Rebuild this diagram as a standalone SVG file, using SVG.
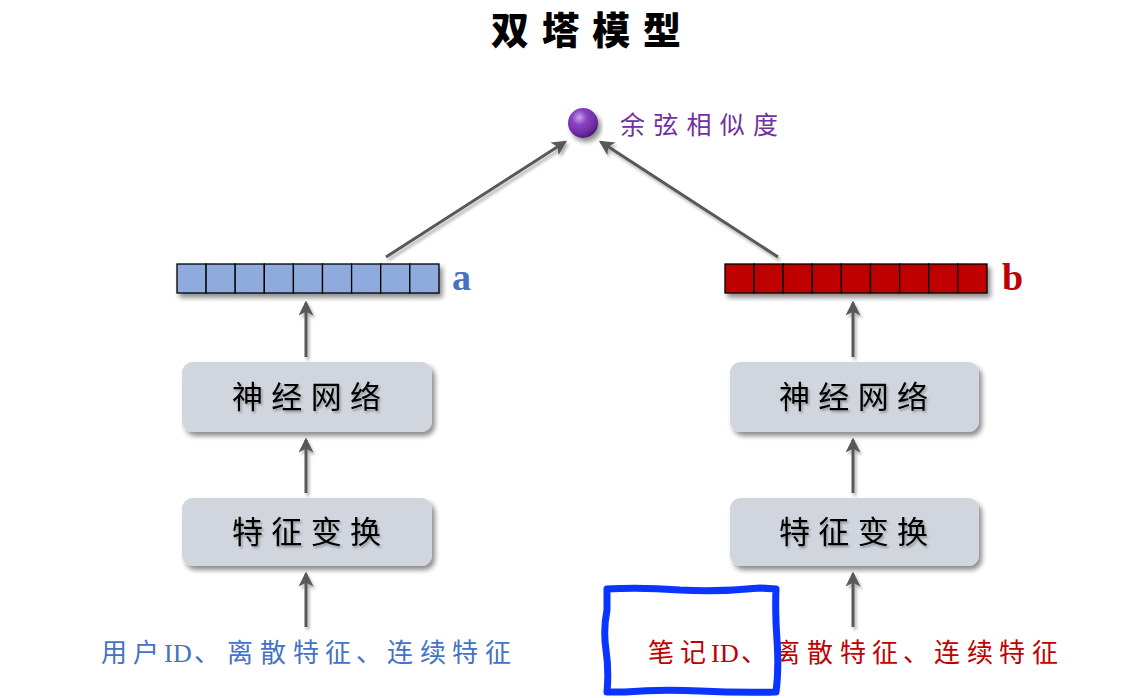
<svg xmlns="http://www.w3.org/2000/svg" width="1123" height="698" viewBox="0 0 1123 698">
  <style>
    .title { font-family: "Noto Sans CJK SC", sans-serif; font-weight: 900; font-size: 38px; fill: #000; }
    .node-box { fill: #D1D6DE; filter: url(#shadow); }
    .node-text { font-family: "Noto Sans CJK SC", sans-serif; font-size: 31px; fill: #000; filter: url(#txtshadow); }
    .cell-a { fill: #8FAADC; stroke: #000; stroke-width: 1.3; }
    .cell-b { fill: #C00000; stroke: #000; stroke-width: 1.3; }
    .vec-label { font-family: "Liberation Serif", serif; font-weight: bold; font-size: 38px; }
    .conn { stroke: #595959; stroke-width: 3; fill: none; marker-end: url(#arrow); }
    .feat { font-family: "Liberation Serif", "Noto Sans CJK SC", serif; font-size: 26px; }
  </style>
  <defs>
    <filter id="shadow" x="-10%" y="-20%" width="125%" height="150%">
      <feDropShadow dx="3" dy="4" stdDeviation="2.5" flood-color="#000" flood-opacity="0.45"/>
    </filter>
    <filter id="lineshadow" filterUnits="userSpaceOnUse" x="0" y="0" width="1123" height="698">
      <feDropShadow dx="2" dy="3" stdDeviation="1.5" flood-color="#000" flood-opacity="0.3"/>
    </filter>
    <filter id="txtshadow" x="-10%" y="-20%" width="120%" height="150%">
      <feDropShadow dx="1.5" dy="2" stdDeviation="1" flood-color="#000" flood-opacity="0.3"/>
    </filter>
    <radialGradient id="ball" cx="0.38" cy="0.32" r="0.7">
      <stop offset="0" stop-color="#C9A6EC"/>
      <stop offset="0.35" stop-color="#8A44C2"/>
      <stop offset="0.8" stop-color="#6B2A9E"/>
      <stop offset="1" stop-color="#4A1672"/>
    </radialGradient>
    <marker id="arrow" viewBox="0 0 12 12" refX="10" refY="6" markerWidth="5" markerHeight="5" orient="auto" markerUnits="strokeWidth">
      <path d="M0,0 L12,6 L0,12 L3,6 Z" fill="#595959"/>
    </marker>
  </defs>

  <!-- heading -->
  <text class="title" x="491" y="44" textLength="190" lengthAdjust="spacing">双塔模型</text>

  <!-- similarity output -->
  <g id="similarity">
    <circle cx="583" cy="123" r="15" fill="url(#ball)" filter="url(#shadow)"/>
    <text x="620" y="134" textLength="158" lengthAdjust="spacing" style="font-family:'Noto Sans CJK SC',sans-serif;font-size:25px;fill:#7030A0">余弦相似度</text>
  </g>

  <!-- connectors -->
  <g id="connectors" filter="url(#lineshadow)">
    <line class="conn" x1="386" y1="257" x2="565" y2="142"/>
    <line class="conn" x1="778" y1="257" x2="601" y2="142"/>
    <line class="conn" x1="306" y1="357" x2="306" y2="303"/>
    <line class="conn" x1="306" y1="493" x2="306" y2="440"/>
    <line class="conn" x1="306" y1="627" x2="306" y2="574"/>
    <line class="conn" x1="853" y1="357" x2="853" y2="303"/>
    <line class="conn" x1="853" y1="493" x2="853" y2="440"/>
    <line class="conn" x1="853" y1="627" x2="853" y2="574"/>
  </g>

  <!-- user tower -->
  <g id="vector-a">
    <g filter="url(#shadow)">
      <rect class="cell-a" x="177" y="264" width="29.1" height="29"/>
      <rect class="cell-a" x="206.1" y="264" width="29.1" height="29"/>
      <rect class="cell-a" x="235.2" y="264" width="29.1" height="29"/>
      <rect class="cell-a" x="264.3" y="264" width="29.1" height="29"/>
      <rect class="cell-a" x="293.4" y="264" width="29.1" height="29"/>
      <rect class="cell-a" x="322.5" y="264" width="29.1" height="29"/>
      <rect class="cell-a" x="351.6" y="264" width="29.1" height="29"/>
      <rect class="cell-a" x="380.7" y="264" width="29.1" height="29"/>
      <rect class="cell-a" x="409.8" y="264" width="29.2" height="29"/>
    </g>
    <text class="vec-label" x="452" y="290" fill="#4472C4">a</text>
  </g>
  <g id="nn-a">
    <rect class="node-box" x="182" y="362" width="250" height="70" rx="11"/>
    <text class="node-text" x="232" y="408" textLength="149" lengthAdjust="spacing">神经网络</text>
  </g>
  <g id="ft-a">
    <rect class="node-box" x="182" y="498" width="250" height="68" rx="11"/>
    <text class="node-text" x="232" y="543" textLength="149" lengthAdjust="spacing">特征变换</text>
  </g>
  <g id="input-a">
    <text class="feat" fill="#4472C4" y="662" x="101 133 164 173 194 227 260 293 325 356 387 420 452 485">用户ID、离散特征、连续特征</text>
  </g>

  <!-- item tower -->
  <g id="vector-b">
    <g filter="url(#shadow)">
      <rect class="cell-b" x="725" y="264" width="29.1" height="29"/>
      <rect class="cell-b" x="754.1" y="264" width="29.1" height="29"/>
      <rect class="cell-b" x="783.2" y="264" width="29.1" height="29"/>
      <rect class="cell-b" x="812.3" y="264" width="29.1" height="29"/>
      <rect class="cell-b" x="841.4" y="264" width="29.1" height="29"/>
      <rect class="cell-b" x="870.5" y="264" width="29.1" height="29"/>
      <rect class="cell-b" x="899.6" y="264" width="29.1" height="29"/>
      <rect class="cell-b" x="928.7" y="264" width="29.1" height="29"/>
      <rect class="cell-b" x="957.8" y="264" width="29.2" height="29"/>
    </g>
    <text class="vec-label" x="1002" y="290" fill="#C00000">b</text>
  </g>
  <g id="nn-b">
    <rect class="node-box" x="730" y="362" width="249" height="70" rx="11"/>
    <text class="node-text" x="779" y="408" textLength="149" lengthAdjust="spacing">神经网络</text>
  </g>
  <g id="ft-b">
    <rect class="node-box" x="730" y="498" width="249" height="68" rx="11"/>
    <text class="node-text" x="779" y="543" textLength="149" lengthAdjust="spacing">特征变换</text>
  </g>
  <g id="input-b">
    <text class="feat" fill="#C00000" y="662" x="648 680 711 720 741 774 807 840 872 903 934 967 999 1032">笔记ID、离散特征、连续特征</text>
  </g>

  <!-- hand-drawn highlight box -->
  <g id="highlight">
    <path d="M607,589 Q640,587 680,590 Q720,592 760,588 L776,589 Q775,610 777,640 Q779,670 776,692 Q740,693 700,691 Q660,689 625,692 L607,692 Q609,670 606,650 Q603,630 607,610 Z"
          fill="none" stroke="#0A34FF" stroke-width="7" stroke-linejoin="round"/>
  </g>
</svg>
